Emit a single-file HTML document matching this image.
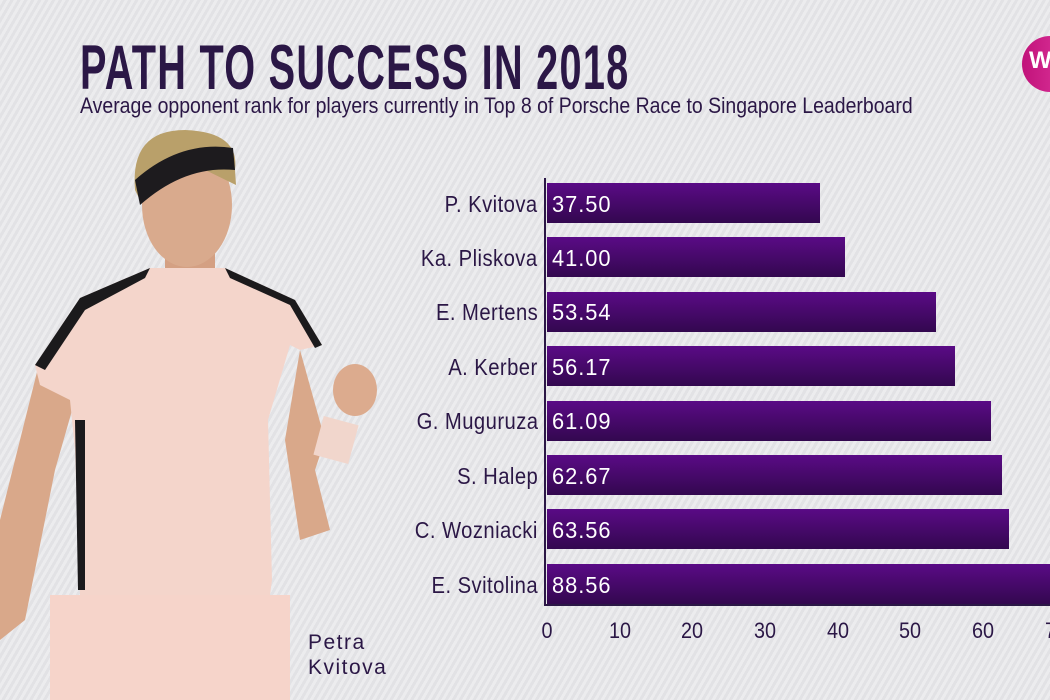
<!DOCTYPE html>
<html><head><meta charset="utf-8"><style>
html,body{margin:0;padding:0}
body{width:1050px;height:700px;overflow:hidden;position:relative;font-family:"Liberation Sans",sans-serif;
background:repeating-linear-gradient(120deg,#ececee 0 3px,#e2e2e5 3px 6px);}
.t{position:absolute;white-space:nowrap;transform-origin:0 0;color:#2b1746}
.lab{position:absolute;right:512px;font-size:23px;color:#2b1746;transform:scaleX(0.88);transform-origin:100% 0;white-space:nowrap;letter-spacing:0.5px}
.bar{position:absolute;left:547px;height:40px;background:linear-gradient(#5a0a86,#33084f);}
.val{position:absolute;left:552px;font-size:23px;color:#fff;transform:scaleX(0.95);transform-origin:0 0;letter-spacing:1px}
.tick{position:absolute;top:618px;font-size:22px;color:#2b1746;transform:translateX(-50%) scaleX(0.9)}
</style></head><body>
<div class="t" style="left:80px;top:32px;font-size:63px;font-weight:bold;transform:scaleX(0.63);letter-spacing:2px">PATH TO SUCCESS IN 2018</div>
<div class="t" style="left:80px;top:93px;font-size:22px;transform:scaleX(0.885)">Average opponent rank for players currently in Top 8 of Porsche Race to Singapore Leaderboard</div>
<div style="position:absolute;left:1022px;top:36px;width:56px;height:56px;border-radius:50%;background:linear-gradient(90deg,#c1127a,#e03aa0)"></div>
<div style="position:absolute;left:1029px;top:47px;color:#fff;font-weight:bold;font-size:24px">W</div>

<svg style="position:absolute;left:0;top:0" width="400" height="700">
<path d="M40,360 L0,520 L0,640 L25,620 L55,470 L75,400Z" fill="#d9a88a"/>
<path d="M300,350 L325,440 L315,470 L330,530 L300,540 L285,440 Z" fill="#d9a88a"/>
<ellipse cx="355" cy="390" rx="22" ry="26" fill="#dcab8e"/>
<rect x="318" y="420" width="36" height="40" fill="#f1d6cc" transform="rotate(15 336 440)"/>
<rect x="165" y="240" width="50" height="40" fill="#d4a083"/>
<ellipse cx="187" cy="205" rx="45" ry="62" fill="#d9aa8d"/>
<path d="M135,190 Q130,130 185,130 Q240,132 235,170 L236,185 L195,165 L140,200Z" fill="#b9a06a"/>
<path d="M135,180 L140,205 Q185,165 235,170 L233,148 Q180,140 135,180Z" fill="#1d1b1e"/>
<path d="M35,365 L80,298 L150,268 L225,268 L295,300 L322,345 L300,350 L290,345 L268,420 L272,580 L270,595 L80,595 L75,450 L70,400 L40,385Z" fill="#f4d5cb"/>
<path d="M35,365 L80,298 L150,268 L145,278 L85,310 L45,370Z" fill="#1b1a1c"/>
<path d="M225,268 L295,300 L322,345 L315,348 L290,305 L230,278Z" fill="#1b1a1c"/>
<path d="M75,420 L85,420 L85,590 L78,590Z" fill="#1b1a1c"/>
<rect x="50" y="595" width="240" height="105" fill="#f6d4ca"/>
</svg>
<div class="t" style="left:308px;top:630px;font-size:21px;line-height:25px;letter-spacing:1.5px">Petra<br>Kvitova</div>

<div style="position:absolute;left:544px;top:178px;width:2px;height:428px;background:#2b1746"></div>
<div style="position:absolute;left:544px;top:604px;width:506px;height:2px;background:#2b1746"></div>

<div class="lab" style="top:191px">P. Kvitova</div><div class="bar" style="top:183px;width:273px"></div><div class="val" style="top:191px">37.50</div>
<div class="lab" style="top:245px">Ka. Pliskova</div><div class="bar" style="top:237px;width:298px"></div><div class="val" style="top:245px">41.00</div>
<div class="lab" style="top:299px">E. Mertens</div><div class="bar" style="top:292px;width:389px"></div><div class="val" style="top:299px">53.54</div>
<div class="lab" style="top:354px">A. Kerber</div><div class="bar" style="top:346px;width:408px"></div><div class="val" style="top:354px">56.17</div>
<div class="lab" style="top:408px">G. Muguruza</div><div class="bar" style="top:401px;width:444px"></div><div class="val" style="top:408px">61.09</div>
<div class="lab" style="top:463px">S. Halep</div><div class="bar" style="top:455px;width:455px"></div><div class="val" style="top:463px">62.67</div>
<div class="lab" style="top:517px">C. Wozniacki</div><div class="bar" style="top:509px;width:462px"></div><div class="val" style="top:517px">63.56</div>
<div class="lab" style="top:572px">E. Svitolina</div><div class="bar" style="top:564px;width:503px"></div><div class="val" style="top:572px">88.56</div>

<div class="tick" style="left:547px">0</div>
<div class="tick" style="left:620px">10</div>
<div class="tick" style="left:692px">20</div>
<div class="tick" style="left:765px">30</div>
<div class="tick" style="left:838px">40</div>
<div class="tick" style="left:910px">50</div>
<div class="tick" style="left:983px">60</div>
<div class="tick" style="left:1056px">70</div>
</body></html>
